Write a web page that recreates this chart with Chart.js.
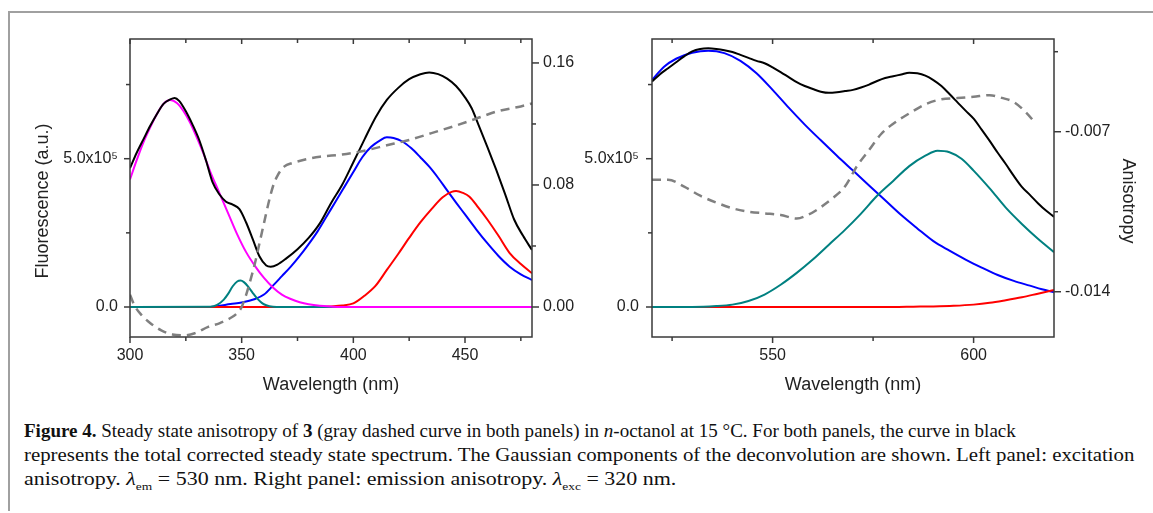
<!DOCTYPE html>
<html>
<head>
<meta charset="utf-8">
<script src="https://cdn.jsdelivr.net/npm/chart.js@4.4.0/dist/chart.umd.min.js"></script>
<style>
  body { margin: 0; background: #fff; width: 1153px; height: 513px; overflow: hidden; position: relative; }
  #frame { position: absolute; left: 8px; top: 11px; width: 1170px; height: 498px; border-left: 2px solid #a0a0a0; border-top: 2px solid #a0a0a0; }
  canvas { position: absolute; left: 0; top: 0; }
  .cap { position: absolute; left: 24px; font-family: "Liberation Serif", "DejaVu Serif", serif; font-size: 18px; color: #111; white-space: nowrap; transform-origin: 0 50%; }
  .cap sub { font-size: 11px; }
</style>
</head>
<body>
<div id="frame"></div>
<canvas id="left" width="1153" height="400"></canvas>
<canvas id="right" width="1153" height="400"></canvas>
<div class="cap" id="cap1" style="top:421px"><b>Figure 4.</b> Steady state anisotropy of <b>3</b> (gray dashed curve in both panels) in <i>n</i>-octanol at 15 °C. For both panels, the curve in black</div>
<div class="cap" id="cap2" style="top:445px">represents the total corrected steady state spectrum. The Gaussian components of the deconvolution are shown. Left panel: excitation</div>
<div class="cap" id="cap3" style="top:469px">anisotropy. <i>λ</i><sub>em</sub> = 530 nm. Right panel: emission anisotropy. <i>λ</i><sub>exc</sub> = 320 nm.</div>
<script>
// ---- left panel: excitation (fluorescence in units of 1e5) ----
const leftBlackNm = [300, 303, 306, 309, 312, 315, 318, 320, 322, 325, 328, 331, 334, 337, 340, 343, 346, 349, 352, 355, 358, 361, 363, 366, 370, 375, 380, 385, 390, 395, 400, 405, 410, 415, 420, 425, 430, 434, 438, 442, 446, 450, 453, 456, 460, 464, 468, 472, 476, 480];
const leftBlack = [4.68, 5.2, 5.65, 6.1, 6.5, 6.85, 7.0, 7.05, 6.95, 6.6, 6.15, 5.63, 4.95, 4.2, 3.8, 3.55, 3.45, 3.3, 2.85, 2.28, 1.7, 1.4, 1.36, 1.43, 1.64, 1.95, 2.33, 2.82, 3.5, 4.12, 4.88, 5.65, 6.4, 6.98, 7.38, 7.68, 7.85, 7.91, 7.85, 7.7, 7.45, 7.07, 6.7, 6.15, 5.4, 4.62, 3.8, 2.95, 2.4, 1.92];

const leftMagentaNm = [300, 303, 306, 309, 312, 315, 318, 321, 324, 327, 330, 333, 336, 340, 344, 348, 352, 356, 360, 364, 368, 372, 376, 380, 385, 390, 395, 400, 480];
const leftMagenta = [4.3, 4.95, 5.55, 6.05, 6.5, 6.85, 6.98, 6.88, 6.6, 6.2, 5.7, 5.15, 4.55, 3.85, 3.15, 2.45, 1.85, 1.38, 0.98, 0.66, 0.42, 0.27, 0.16, 0.09, 0.04, 0.015, 0, 0, 0];

const leftBlueNm = [300, 336, 340, 345, 350, 356, 360, 364, 368, 372, 376, 380, 384, 388, 392, 396, 400, 404, 408, 412, 415, 418, 422, 426, 430, 434, 438, 442, 446, 450, 455, 460, 465, 470, 475, 480];
const leftBlue = [0, 0, 0.04, 0.1, 0.15, 0.27, 0.42, 0.72, 1.04, 1.36, 1.72, 2.12, 2.55, 3.05, 3.55, 4.05, 4.55, 5.05, 5.4, 5.62, 5.72, 5.7, 5.58, 5.35, 5.05, 4.73, 4.35, 3.93, 3.52, 3.12, 2.62, 2.15, 1.72, 1.36, 1.1, 0.91];

const leftRedNm = [300, 385, 390, 395, 400, 405, 410, 415, 420, 425, 430, 435, 440, 444, 446, 449, 452, 456, 460, 465, 470, 475, 480];
const leftRed = [0, 0, 0.02, 0.05, 0.12, 0.38, 0.72, 1.25, 1.78, 2.33, 2.85, 3.3, 3.7, 3.88, 3.91, 3.85, 3.72, 3.35, 2.95, 2.4, 1.82, 1.45, 1.14];

const leftTealNm = [300, 336, 339, 342, 344, 346, 348, 349.5, 351, 353, 355, 357, 359, 361, 364, 368, 480];
const leftTeal = [0, 0.01, 0.07, 0.25, 0.45, 0.7, 0.86, 0.89, 0.84, 0.68, 0.47, 0.28, 0.14, 0.06, 0.01, 0, 0];

// excitation anisotropy (right axis)
const leftAnisoNm = [300, 302, 305, 309, 314, 319, 324, 329, 335, 340, 345, 348, 350, 352, 354, 356, 358, 360, 362, 364, 366, 369, 373, 378, 385, 395, 405, 415, 425, 435, 445, 455, 465, 475, 480];
const leftAniso = [0.008, 0.001, -0.005, -0.0105, -0.0153, -0.018, -0.0186, -0.0172, -0.013, -0.0107, -0.0072, -0.004, 0.0, 0.008, 0.018, 0.029, 0.042, 0.055, 0.068, 0.079, 0.086, 0.092, 0.0945, 0.0965, 0.0985, 0.1, 0.1025, 0.106, 0.1095, 0.114, 0.1185, 0.1235, 0.1285, 0.1315, 0.1335];

// ---- right panel: emission ----
const rightBlackNm = [520, 522, 524, 526, 528, 530, 532, 534, 536, 538, 540, 542, 544, 546, 548, 550, 552, 554, 556, 558, 560, 562, 564, 566, 568, 570, 572, 574, 576, 578, 580, 582, 584, 586, 588, 590, 592, 594, 596, 598, 600, 602, 604, 606, 608, 610, 612, 614, 616, 618, 620];
const rightBlack = [7.6, 7.85, 8.05, 8.25, 8.45, 8.62, 8.7, 8.72, 8.7, 8.66, 8.6, 8.5, 8.4, 8.3, 8.22, 8.08, 7.92, 7.75, 7.58, 7.45, 7.35, 7.26, 7.22, 7.24, 7.28, 7.32, 7.4, 7.5, 7.62, 7.72, 7.78, 7.84, 7.9, 7.88, 7.8, 7.65, 7.45, 7.18, 6.9, 6.62, 6.35, 5.98, 5.6, 5.2, 4.82, 4.42, 4.05, 3.78, 3.5, 3.25, 3.04];

const rightBlueNm = [520, 523, 526, 530, 534, 538, 542, 546, 550, 554, 558, 562, 566, 570, 574, 578, 582, 586, 590, 594, 598, 602, 606, 610, 614, 617, 620];
const rightBlue = [7.65, 8.1, 8.37, 8.57, 8.64, 8.56, 8.3, 7.88, 7.32, 6.72, 6.15, 5.62, 5.1, 4.6, 4.1, 3.6, 3.1, 2.65, 2.22, 1.9, 1.6, 1.33, 1.08, 0.88, 0.72, 0.6, 0.5];

const rightTealNm = [520, 530, 536, 540, 544, 548, 552, 556, 560, 564, 568, 572, 576, 580, 584, 588, 591, 594, 597, 600, 604, 608, 612, 616, 620];
const rightTeal = [0, 0, 0.03, 0.08, 0.2, 0.42, 0.75, 1.15, 1.6, 2.1, 2.6, 3.15, 3.75, 4.25, 4.75, 5.1, 5.27, 5.22, 5.0, 4.6, 4.0, 3.35, 2.8, 2.3, 1.85];

const rightRedNm = [520, 580, 585, 590, 595, 600, 604, 608, 612, 616, 620];
const rightRed = [0, 0, 0.01, 0.02, 0.04, 0.08, 0.14, 0.23, 0.33, 0.45, 0.57];

const rightAnisoNm = [520, 524, 528, 532, 536, 540, 544, 548, 552, 556, 559, 562, 565, 568, 571, 574, 577, 580, 584, 588, 592, 596, 600, 604, 607, 610, 613, 615.5];
const rightAniso = [-0.0091, -0.0091, -0.0094, -0.0098, -0.0101, -0.01035, -0.0105, -0.01057, -0.01064, -0.0108, -0.01062, -0.0103, -0.0099, -0.0094, -0.0085, -0.0078, -0.0071, -0.00665, -0.0062, -0.0058, -0.00558, -0.00553, -0.00547, -0.0054, -0.00552, -0.0057, -0.00615, -0.00665];

// ---- ticks ----
const leftXMajor = [300, 350, 400, 450];
const leftXMinor = [325, 375, 425, 475];
const rightXMajor = [550, 600];
const rightXMinor = [525, 575];
const fluorMajor = [0, 5];
const fluorMinor = [2.5, 7.5];
const leftAnisoMajor = [0, 0.08, 0.16];
const leftAnisoMinor = [0.04, 0.12];
const rightAnisoMajor = [-0.014, -0.007];
const rightAnisoMinor = [-0.0105, -0.0035];

Chart.defaults.font.family = "'Liberation Sans', Arial, sans-serif";
Chart.defaults.font.size = 16;
Chart.defaults.color = '#222';

function series(nm, vals, color, axis, order, dashed) {
  return {
    data: nm.map((x, i) => ({ x: x, y: vals[i] })),
    borderColor: color,
    borderWidth: dashed ? 2.5 : 2,
    borderDash: dashed ? [9, 6] : [],
    yAxisID: axis,
    order: order,
    pointRadius: 0,
    fill: false,
    cubicInterpolationMode: 'monotone'
  };
}

function fixedSize(size) {
  return function (s) {
    if (s.isHorizontal()) s.height = size; else s.width = size;
  };
}
function setTicks(values) {
  return function (s) { s.ticks = values.map(v => ({ value: v })); };
}

// frame, tick marks and axis titles
const deco = {
  id: 'deco',
  afterDatasetsDraw(chart, args, o) {
    const { ctx, chartArea: a, scales } = chart;
    ctx.save();
    ctx.strokeStyle = '#3a3a3a';
    ctx.lineWidth = 1.5;
    ctx.strokeRect(a.left, a.top, a.right - a.left, a.bottom - a.top);
    const line = (x1, y1, x2, y2) => { ctx.beginPath(); ctx.moveTo(x1, y1); ctx.lineTo(x2, y2); ctx.stroke(); };
    o.xMajor.forEach(v => { const x = scales.x.getPixelForValue(v); line(x, a.bottom, x, a.bottom + 6); line(x, a.top, x, a.top + 5); });
    o.xMinor.forEach(v => { const x = scales.x.getPixelForValue(v); line(x, a.bottom, x, a.bottom + 4); line(x, a.top, x, a.top + 4); });
    o.yMajor.forEach(v => { const y = scales.y.getPixelForValue(v); line(a.left, y, a.left - 6, y); });
    o.yMinor.forEach(v => { const y = scales.y.getPixelForValue(v); line(a.left, y, a.left - 4, y); });
    o.y2Major.forEach(v => { const y = scales.y2.getPixelForValue(v); line(a.right, y, a.right + 7, y); });
    o.y2Minor.forEach(v => { const y = scales.y2.getPixelForValue(v); line(a.right, y, a.right + 4, y); });

    ctx.fillStyle = '#222';
    ctx.font = "18px 'Liberation Sans', Arial, sans-serif";
    ctx.textAlign = 'center';
    ctx.textBaseline = 'middle';
    ctx.fillText(o.xTitle, (a.left + a.right) / 2, 385);
    if (o.yTitle) {
      ctx.save(); ctx.translate(43, 201); ctx.rotate(-Math.PI / 2);
      ctx.fillText(o.yTitle, 0, 0); ctx.restore();
    }
    if (o.y2Title) {
      ctx.save(); ctx.translate(1128, 201); ctx.rotate(Math.PI / 2);
      ctx.fillText(o.y2Title, 0, 0); ctx.restore();
    }
    ctx.restore();
  }
};

function panel(id, pad, xr, xMajor, xMinor, y2r, y2Major, y2Minor, y2Fmt, yLabelPad, datasets, titles) {
  return new Chart(document.getElementById(id), {
    type: 'line',
    data: { datasets: datasets },
    options: {
      responsive: false,
      animation: false,
      events: [],
      layout: { padding: pad, autoPadding: false },
      plugins: {
        legend: { display: false },
        tooltip: { enabled: false },
        deco: Object.assign({ xMajor: xMajor, xMinor: xMinor, yMajor: fluorMajor, yMinor: fluorMinor, y2Major: y2Major, y2Minor: y2Minor }, titles)
      },
      scales: {
        x: {
          type: 'linear', min: xr[0], max: xr[1],
          afterBuildTicks: setTicks(xMajor), afterFit: fixedSize(40),
          grid: { display: false, drawTicks: false }, border: { display: false },
          ticks: { padding: 9, maxRotation: 0, autoSkip: false, callback: v => String(v) }
        },
        y: {
          type: 'linear', position: 'left', min: -1.0115, max: 9.036,
          afterBuildTicks: setTicks(fluorMajor), afterFit: fixedSize(130),
          grid: { display: false, drawTicks: false }, border: { display: false },
          ticks: { padding: yLabelPad, callback: v => v === 0 ? '0.0' : '5.0x10\u2075' }
        },
        y2: {
          type: 'linear', position: 'right', min: y2r[0], max: y2r[1],
          afterBuildTicks: setTicks(y2Major), afterFit: fixedSize(70),
          grid: { display: false, drawTicks: false }, border: { display: false },
          ticks: { padding: 11, callback: y2Fmt }
        }
      }
    },
    plugins: [deco]
  });
}

panel('left', { left: 0, top: 39, right: 551, bottom: 23 },
  [300, 480], leftXMajor, leftXMinor,
  [-0.01967, 0.1757], leftAnisoMajor, leftAnisoMinor, v => v.toFixed(2), 12,
  [
    series(leftAnisoNm, leftAniso, '#808080', 'y2', 0, true),
    series(leftBlackNm, leftBlack, '#000000', 'y', 1),
    series(leftMagentaNm, leftMagenta, '#ff00ff', 'y', 2),
    series(leftTealNm, leftTeal, '#008080', 'y', 3),
    series(leftRedNm, leftRed, '#ff0000', 'y', 4),
    series(leftBlueNm, leftBlue, '#0000ff', 'y', 5)
  ],
  { xTitle: 'Wavelength (nm)', yTitle: 'Fluorescence (a.u.)', y2Title: null });

panel('right', { left: 522, top: 39, right: 29, bottom: 23 },
  [520, 620], rightXMajor, rightXMinor,
  [-0.01598, -0.002944], rightAnisoMajor, rightAnisoMinor, v => v.toFixed(3), 13,
  [
    series(rightAnisoNm, rightAniso, '#808080', 'y2', 0, true),
    series(rightBlackNm, rightBlack, '#000000', 'y', 1),
    series(rightTealNm, rightTeal, '#008080', 'y', 3),
    series(rightRedNm, rightRed, '#ff0000', 'y', 4),
    series(rightBlueNm, rightBlue, '#0000ff', 'y', 5)
  ],
  { xTitle: 'Wavelength (nm)', yTitle: null, y2Title: 'Anisotropy' });

// fit each caption line to the length it has in the figure
const capEnds = { cap1: 1016, cap2: 1135, cap3: 676 };
Object.keys(capEnds).forEach(id => {
  const el = document.getElementById(id);
  const k = (capEnds[id] - 24) / el.scrollWidth;
  el.style.transform = 'scaleX(' + k.toFixed(3) + ')';
});
</script>
</body>
</html>
